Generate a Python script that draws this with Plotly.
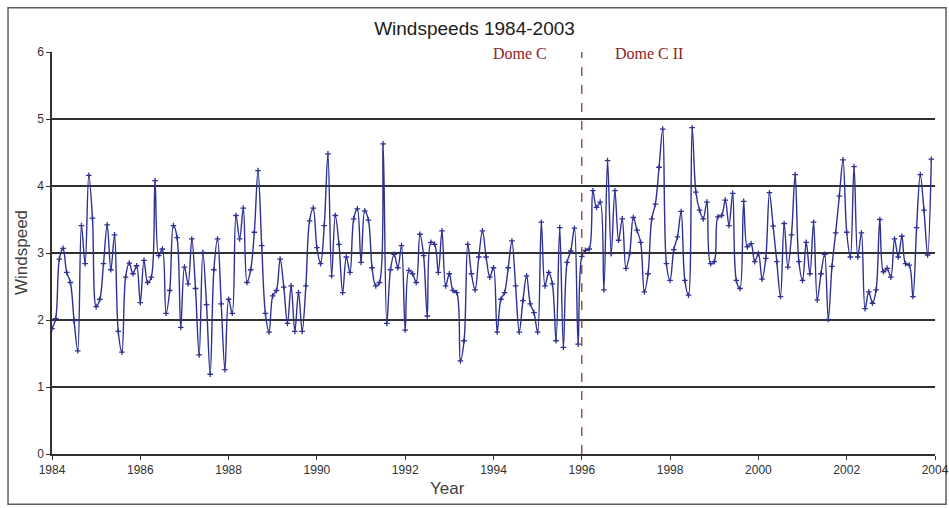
import plotly.graph_objects as go

start_year = 1984
wind_1984_1989 = [
    1.87, 2.02, 2.91, 3.07, 2.71, 2.56, 1.99, 1.54, 3.41, 2.84, 4.16, 3.52,
    2.20, 2.31, 2.84, 3.42, 2.75, 3.27, 1.83, 1.52, 2.64, 2.85, 2.69, 2.81,
    2.26, 2.89, 2.56, 2.64, 4.08, 2.96, 3.06, 2.10, 2.44, 3.41, 3.23, 1.89,
    2.79, 2.54, 3.21, 2.47, 1.48, 3.01, 2.23, 1.19, 2.75, 3.21, 2.24, 1.26,
    2.31, 2.10, 3.56, 3.21, 3.67, 2.56, 2.75, 3.31, 4.23, 3.11, 2.10, 1.82,
    2.36, 2.44, 2.91, 2.49, 1.95, 2.51, 1.83, 2.41, 1.83, 2.51, 3.48, 3.67,
]
wind_1990_1995 = [
    3.08, 2.84, 3.41, 4.48, 2.66, 3.56, 3.13, 2.41, 2.94, 2.71, 3.51, 3.66,
    2.86, 3.63, 3.49, 2.78, 2.51, 2.56, 4.63, 1.95, 2.75, 2.98, 2.78, 3.11,
    1.85, 2.74, 2.69, 2.56, 3.28, 2.96, 2.06, 3.16, 3.13, 2.71, 3.33, 2.51,
    2.69, 2.44, 2.41, 1.39, 1.69, 3.13, 2.69, 2.45, 2.94, 3.33, 2.94, 2.64,
    2.78, 1.82, 2.31, 2.41, 2.78, 3.18, 2.51, 1.82, 2.29, 2.66, 2.24, 2.11,
    1.82, 3.46, 2.51, 2.71, 2.54, 1.69, 3.38, 1.59, 2.86, 3.03, 3.37, 1.64,
]
wind_1996_1999 = [
    2.95, 3.04, 3.06, 3.93, 3.68, 3.76, 2.45, 4.38, 2.99, 3.93, 3.19, 3.51,
    2.77, 2.99, 3.53, 3.34, 3.16, 2.42, 2.69, 3.51, 3.73, 4.28, 4.85, 2.84,
    2.59, 3.05, 3.24, 3.62, 2.59, 2.37, 4.87, 3.91, 3.64, 3.51, 3.76, 2.84,
    2.87, 3.54, 3.56, 3.79, 3.41, 3.89, 2.59, 2.47, 3.77, 3.09, 3.14, 2.87,
]
wind_2000_2003 = [
    2.99, 2.61, 2.92, 3.90, 3.40, 2.87, 2.35, 3.44, 2.79, 3.27, 4.17, 2.87,
    2.59, 3.16, 2.69, 3.46, 2.30, 2.69, 2.98, 2.01, 2.80, 3.30, 3.85, 4.39,
    3.31, 2.94, 4.29, 2.94, 3.30, 2.17, 2.42, 2.25, 2.45, 3.50, 2.72, 2.77,
    2.64, 3.21, 2.94, 3.25, 2.84, 2.82, 2.35, 3.38, 4.17, 3.64, 2.97, 4.40,
]
x_ticks = [1984, 1986, 1988, 1990, 1992, 1994, 1996, 1998, 2000, 2002, 2004]
y_ticks = [0, 1, 2, 3, 4, 5, 6]
dome_split_year = 1996
site_labels = ["Dome C", "Dome C II"]

wind = wind_1984_1989 + wind_1990_1995 + wind_1996_1999 + wind_2000_2003
years = [start_year + i / 12 for i in range(len(wind))]

line_col = "#2E3192"
red = "#8B2323"

fig = go.Figure()
fig.add_trace(go.Scatter(
    x=years, y=wind, mode="lines+markers",
    line=dict(color=line_col, width=1.4, shape="spline", smoothing=1.0),
    marker=dict(symbol="cross-thin", size=4, color=line_col,
                line=dict(color=line_col, width=1.3)),
    showlegend=False, hoverinfo="x+y",
))

fig.add_shape(type="line", xref="x", yref="y",
              x0=dome_split_year, x1=dome_split_year, y0=0, y1=6,
              line=dict(color=red, width=1.2, dash="dash"))

# outer frame
fig.add_shape(type="rect", xref="paper", yref="paper",
              x0=-0.0498, x1=1.0125, y0=-0.125, y1=1.11,
              line=dict(color="#606060", width=1.5), layer="below")

fig.add_annotation(x=1994.6, y=5.98, xref="x", yref="y", text=site_labels[0],
                   showarrow=False, yanchor="middle",
                   font=dict(family="Liberation Serif", size=16, color=red))
fig.add_annotation(x=1997.52, y=5.98, xref="x", yref="y", text=site_labels[1],
                   showarrow=False, yanchor="middle",
                   font=dict(family="Liberation Serif", size=16, color=red))
fig.add_annotation(x=1992.95, y=-0.085, xref="x", yref="paper", text="Year",
                   showarrow=False, yanchor="middle", xanchor="center",
                   font=dict(family="Liberation Sans", size=17, color="#404040"))
fig.add_annotation(x=-0.034, y=0.5025, xref="paper", yref="paper", text="Windspeed",
                   showarrow=False, textangle=-90, xanchor="center", yanchor="middle",
                   font=dict(family="Liberation Sans", size=17, color="#404040"))

fig.update_layout(
    width=949, height=508,
    margin=dict(l=52, r=14, t=52, b=54),
    paper_bgcolor="white", plot_bgcolor="white",
    title=dict(text="Windspeeds 1984-2003", x=0.5, xanchor="center",
               y=0.945, yanchor="middle",
               font=dict(family="Liberation Sans", size=19, color="#202020")),
    xaxis=dict(range=[1984, 2004], tickvals=x_ticks, ticktext=[str(t) for t in x_ticks],
               showgrid=False, zeroline=False, showline=True, linecolor="#303030",
               linewidth=1.5, ticks="outside", ticklen=4, tickcolor="#303030",
               automargin=False, ticklabeloverflow="allow",
               tickfont=dict(family="Liberation Sans", size=12, color="#303030")),
    yaxis=dict(range=[0, 6], tickvals=y_ticks, showgrid=True, gridcolor="#303030",
               gridwidth=1.5, zeroline=False, showline=True, linecolor="#303030",
               linewidth=1.5, ticks="outside", ticklen=4, tickcolor="#303030",
               automargin=False,
               tickfont=dict(family="Liberation Sans", size=12, color="#303030")),
)

fig.write_html("out.html", config={"displayModeBar": False},
               post_script="document.body.style.margin='0';document.body.style.overflow='hidden';")
